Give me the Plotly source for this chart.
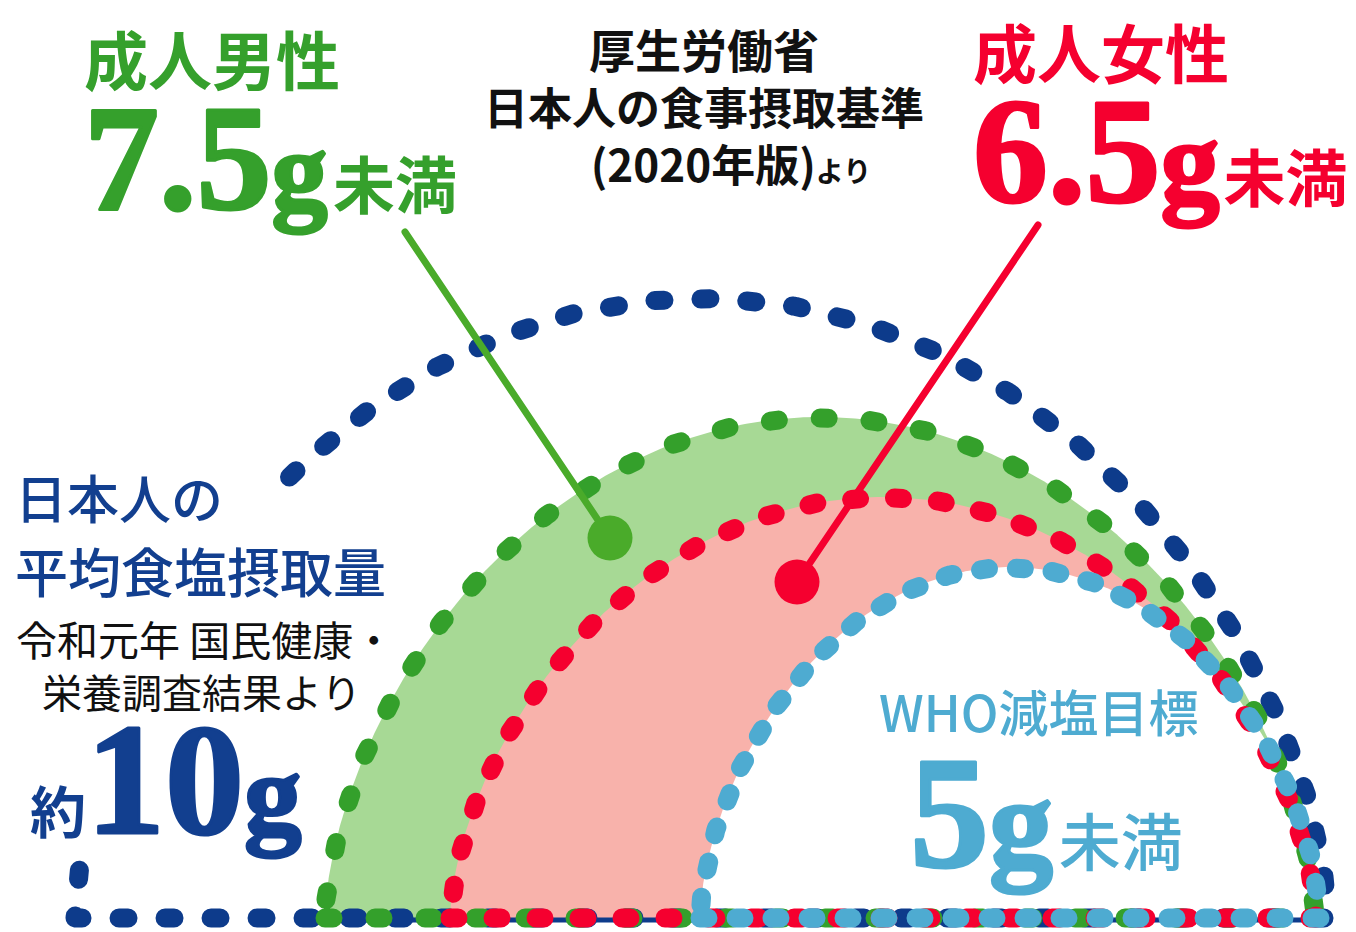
import numpy as np
import plotly.graph_objects as go

# ---------------- data ----------------
groups = ["日本人の平均食塩摂取量", "成人男性", "成人女性", "WHO減塩目標"]
salt_g = [10, 7.5, 6.5, 5]
unit = "g"
suffix = ["", "未満", "未満", "未満"]
source_mhlw = ["厚生労働省", "日本人の食事摂取基準", "(2020年版)", "より"]
source_survey = ["令和元年 国民健康・", "栄養調査結果より"]

# ---------------- layout / style ----------------
W, H = 1356, 932
BASE_Y = 918
ARC_LEFT = [75, 325, 450, 700]
ARC_RIGHT = [1328, 1315, 1316, 1320]
ARC_TOP = [298, 417, 497, 567]
SHAPE_P = 0.6
LINE_COL = ["#0d3b8b", "#34a02b", "#f5002f", "#4eabd1"]
FILL_COL = [None, "#a7d995", "#f8b2ab", "#ffffff"]
DASH = ["9px,37px", "8px,42px", "8px,35px", "8px,28px"]
DOT_W = 19
TEXT_COL = ["#123f8f", "#35a02c", "#f5002f", "#4eabd1"]
LEADER_COL = [None, "#4aab2a", "#f5002f", None]
LEADER_FROM = [None, (405, 232), (1038, 225), None]
LEADER_TO = [None, (610, 538), (797, 582), None]

CJK = "Noto Sans CJK JP"
SERIF = "Liberation Serif"


def arch_xy(i, t):
    L, R, T = ARC_LEFT[i], ARC_RIGHT[i], ARC_TOP[i]
    cx, rx, ry = (L + R) / 2, (R - L) / 2, BASE_Y - T
    x = cx + rx * t
    y = BASE_Y - ry * np.clip(1 - t ** 2, 0, None) ** SHAPE_P
    return x, y


fig = go.Figure()

# fills
for i in range(1, 4):
    t = np.cos(np.linspace(np.pi, 0, 600))
    x, y = arch_xy(i, t)
    fig.add_trace(go.Scatter(x=np.r_[x, x[0]], y=np.r_[y, y[0]], mode="lines",
                             fill="toself", fillcolor=FILL_COL[i],
                             line=dict(width=0), hoverinfo="skip"))

# thin navy baseline under the coloured arches
fig.add_trace(go.Scatter(x=[ARC_LEFT[1], ARC_RIGHT[0]], y=[BASE_Y + 2, BASE_Y + 2],
                         mode="lines", line=dict(color=LINE_COL[0], width=5),
                         hoverinfo="skip"))

# dotted outlines
for i in range(4):
    L, R = ARC_LEFT[i], ARC_RIGHT[i]
    if i == 0:
        ts = np.linspace(-0.993, -1, 8)
        xs, ys = arch_xy(0, ts)
        phi_end = np.arccos((278 - (L + R) / 2) / ((R - L) / 2))
        ta = np.cos(np.linspace(0, phi_end, 700))
        xa, ya = arch_xy(0, ta)
        x = np.r_[xs, R, xa]
        y = np.r_[ys, BASE_Y, ya]
    else:
        ta = np.cos(np.linspace(0, np.pi, 700))
        xa, ya = arch_xy(i, ta)
        x = np.r_[L, R, xa]
        y = np.r_[BASE_Y, BASE_Y, ya]
    fig.add_trace(go.Scatter(x=x, y=y, mode="lines",
                             line=dict(color=LINE_COL[i], width=DOT_W, dash=DASH[i]),
                             hoverinfo="skip"))

# leader lines
for i in (1, 2):
    (x0, y0), (x1, y1) = LEADER_FROM[i], LEADER_TO[i]
    fig.add_trace(go.Scatter(x=[x0, x1], y=[y0, y1], mode="lines",
                             line=dict(color=LEADER_COL[i], width=7), hoverinfo="skip"))
    fig.add_trace(go.Scatter(x=[x1], y=[y1], mode="markers",
                             marker=dict(color=LEADER_COL[i], size=45, line=dict(width=0)),
                             hoverinfo="skip"))


def sp(text, size, extra=""):
    return f"<span style='font-size:{size}px;{extra}'>{text}</span>"


def big(i, num_size, g_size, gap=8, suf_size=62):
    v = f"{salt_g[i]:g}"
    c = TEXT_COL[i]
    st = f"font-family:{SERIF};font-weight:bold;stroke:{c};stroke-width:3px;stroke-linejoin:round"
    s = sp(v, num_size, st) + sp(unit, g_size, st)
    if suffix[i]:
        s += sp(" ", gap) + sp(suffix[i], suf_size)
    return s


ann = []


def add(text, x, y, base, color, xanchor="left", yanchor="top", weight="normal", align="left"):
    ann.append(dict(text=text, x=x, y=y, xref="x", yref="y", showarrow=False,
                    xanchor=xanchor, yanchor=yanchor, align=align,
                    font=dict(family=CJK, size=base, color=color, weight=weight)))


# 成人男性 7.5g未満
add(sp(groups[1], 64) + "<br>" + big(1, 150, 112, 24), 82, 9, 95, TEXT_COL[1], weight="bold")
# 成人女性 6.5g未満
add(sp(groups[2], 64) + "<br>" + big(2, 150, 118, 18), 971, 2, 95, TEXT_COL[2], weight="bold")
# source (MHLW)
add(sp(source_mhlw[0], 46) + "<br>" + sp(source_mhlw[1], 44) + "<br>"
    + sp("　", 54) + sp(source_mhlw[2], 44) + sp(source_mhlw[3], 28),
    704, 13, 44, "#111111", xanchor="center", weight="bold", align="center")
# 日本人の平均食塩摂取量
add(sp(groups[0][:4], 52) + "<br>" + sp(groups[0][4:], 53), 13, 457, 57,
    TEXT_COL[0], weight=500)
add(sp(source_survey[0], 41) + "<br>" + sp("　", 26) + sp(source_survey[1], 40),
    14, 606, 40, "#111111")
# 約10g
add(sp("約", 56) + big(0, 158, 115), 28, 779, 56, TEXT_COL[0], yanchor="middle", weight="bold")
# WHO 5g未満
add(sp(groups[3], 50) + "<br>" + sp("　", 31) + big(3, 158, 128, 26), 877, 672, 103,
    TEXT_COL[3], weight=500)

fig.update_layout(
    width=W, height=H, margin=dict(l=0, r=0, t=0, b=0),
    paper_bgcolor="white", plot_bgcolor="white", showlegend=False,
    xaxis=dict(range=[0, W], visible=False, fixedrange=True),
    yaxis=dict(range=[H, 0], visible=False, fixedrange=True),
    annotations=ann,
)

post = ("var gd=document.getElementById('{plot_id}');"
        "function rc(){gd.querySelectorAll('path.js-line').forEach(function(p){"
        "p.style.strokeLinecap='round';p.style.strokeLinejoin='round';});}"
        "rc(); gd.on('plotly_afterplot', rc);")
fig.write_html("out.html", post_script=post, config={"displayModeBar": False})
